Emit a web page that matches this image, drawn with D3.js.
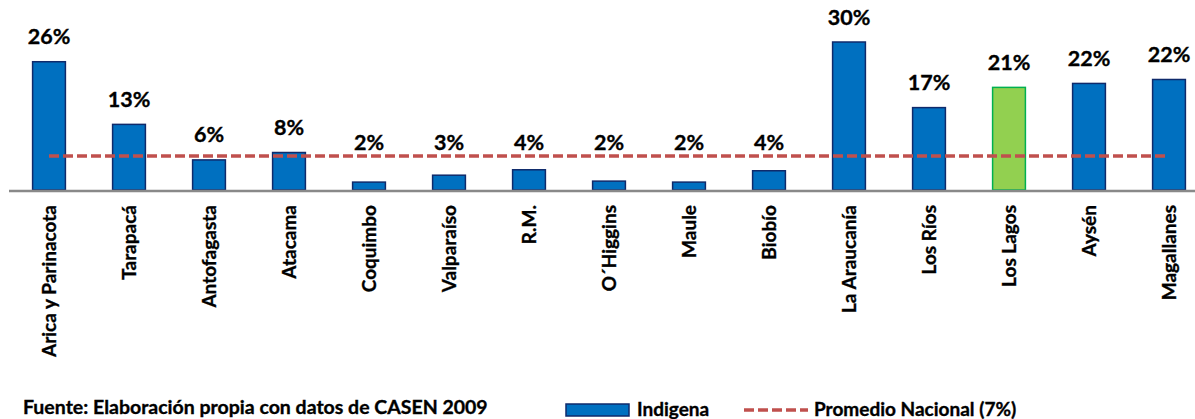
<!DOCTYPE html>
<html>
<head>
<meta charset="utf-8">
<script src="https://cdn.jsdelivr.net/npm/d3@7"></script>
<style>
	body { margin: 0; background: #fff; }
	svg { display: block; font-family: Lato, 'Open Sans', sans-serif; font-weight: 700; }
	text { fill: #000; stroke: #000; stroke-width: 0.35px; }
	.value-label { font-size: 21.5px; }
	.cat-label { font-size: 19px; }
	.foot { font-size: 19.5px; }
	.legend-text { font-size: 19px; }
</style>
</head>
<body>
<div id="chart-container"></div>
<script>
const regions = [
	'Arica y Parinacota',
	'Tarapacá',
	'Antofagasta',
	'Atacama',
	'Coquimbo',
	'Valparaíso',
	'R.M.',
	'O´Higgins',
	'Maule',
	'Biobío',
	'La Araucanía',
	'Los Ríos',
	'Los Lagos',
	'Aysén',
	'Magallanes',
];
const indigena = [26, 13.3, 6.1, 7.6, 1.6, 3.0, 4.1, 1.8, 1.6, 3.9, 30, 16.7, 20.8, 21.6, 22.4];
const promedioNacional = 6.9;
const highlightRegion = 'Los Lagos';
const footText = 'Fuente: Elaboración propia con datos de CASEN 2009';
const legendLabels = ['Indigena', 'Promedio Nacional (7%)'];

const width = 1195,
	height = 419;

const svg = d3
	.select('#chart-container')
	.append('svg')
	.attr('width', width)
	.attr('height', height);

const data = regions.map((r, i) => ({ region: r, value: indigena[i] }));

const x = d3.scaleBand().domain(regions).range([9, 1209]).paddingInner(0.59).paddingOuter(0.295);
const y = d3.scaleLinear().domain([0, 30]).range([190, 42]);
const fmt = d3.format('.0f');

const cfg = {
	blue: '#0070C0',
	blueStroke: '#0F2A6B',
	green: '#92D050',
	greenStroke: '#00B050',
	red: '#C0504D',
};

// bars
svg
	.append('g')
	.selectAll('rect')
	.data(data)
	.enter()
	.append('rect')
	.attr('x', d => x(d.region))
	.attr('y', d => y(d.value))
	.attr('width', x.bandwidth())
	.attr('height', d => y(0) - y(d.value))
	.style('fill', d => (d.region === highlightRegion ? cfg.green : cfg.blue))
	.style('stroke', d => (d.region === highlightRegion ? cfg.greenStroke : cfg.blueStroke))
	.style('stroke-width', 1.5);

// x axis line
svg
	.append('line')
	.attr('x1', x.range()[0])
	.attr('x2', width)
	.attr('y1', y(0) + 1)
	.attr('y2', y(0) + 1)
	.style('stroke', '#898989')
	.style('stroke-width', 2.5);

// national average
const first = regions[0],
	last = regions[regions.length - 1];
svg
	.append('line')
	.attr('x1', x(first) + x.bandwidth() / 2)
	.attr('x2', x(last) + x.bandwidth() / 2)
	.attr('y1', y(promedioNacional))
	.attr('y2', y(promedioNacional))
	.style('stroke', cfg.red)
	.style('stroke-width', 3.5)
	.style('stroke-dasharray', '10 4');

// value labels, kept above the average line for the short bars
svg
	.append('g')
	.selectAll('text')
	.data(data)
	.enter()
	.append('text')
	.attr('class', 'value-label')
	.attr('text-anchor', 'middle')
	.attr('x', d => x(d.region) + x.bandwidth() / 2)
	.attr('y', d => Math.min(y(d.value) - 25, y(promedioNacional) - 13))
	.attr('dy', '0.35em')
	.text(d => fmt(d.value) + '%');

// category labels
svg
	.append('g')
	.selectAll('text')
	.data(regions)
	.enter()
	.append('text')
	.attr('class', 'cat-label')
	.attr('text-anchor', 'end')
	.attr('transform', d => 'translate(' + (x(d) + x.bandwidth() / 2) + ',205) rotate(-90)')
	.attr('dy', '0.35em')
	.text(d => d);

// footer
svg.append('text').attr('class', 'foot').attr('x', 23).attr('y', 414).text(footText);

// legend
const legend = svg.append('g');
legend
	.append('rect')
	.attr('x', 566)
	.attr('y', 404)
	.attr('width', 63)
	.attr('height', 12)
	.style('fill', cfg.blue)
	.style('stroke', cfg.blueStroke)
	.style('stroke-width', 1.5);
legend.append('text').attr('class', 'legend-text').attr('x', 637).attr('y', 416).text(legendLabels[0]);
legend
	.append('line')
	.attr('x1', 744)
	.attr('x2', 808)
	.attr('y1', 410)
	.attr('y2', 410)
	.style('stroke', cfg.red)
	.style('stroke-width', 3.5)
	.style('stroke-dasharray', '10 4');
legend.append('text').attr('class', 'legend-text').attr('x', 814).attr('y', 416).text(legendLabels[1]);
</script>
</body>
</html>
